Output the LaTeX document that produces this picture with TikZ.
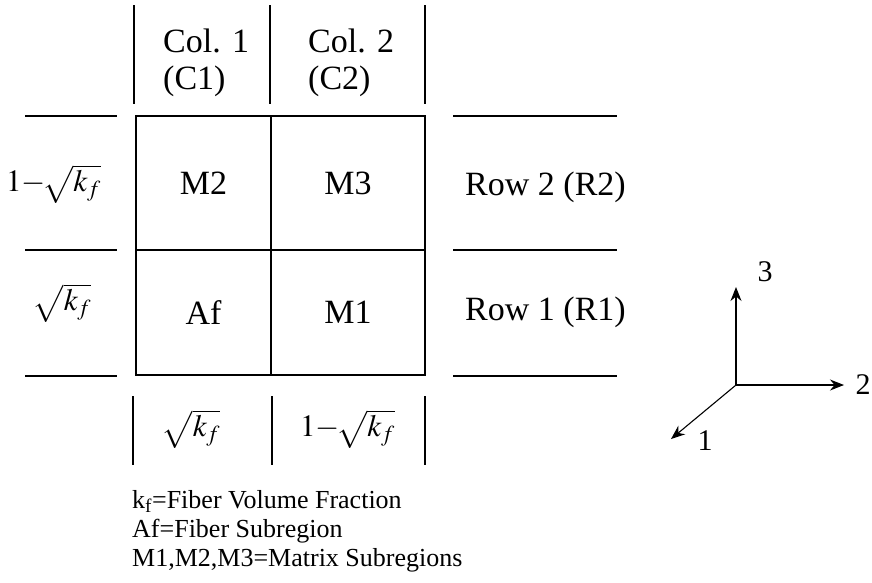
\documentclass[tikz,border=0pt]{standalone}
\usepackage{mathptmx}
\usepackage{fontspec}
\setmainfont{Liberation Serif}
\usetikzlibrary{arrows.meta}
\begin{document}
\begin{tikzpicture}[x=1pt,y=-1pt,
  ln/.style={line width=1.1pt,black},
  cell/.style={draw,line width=1.1pt,minimum width=#1,inner sep=0pt,outer sep=0pt,font=\fontsize{34}{40}\selectfont},
  big/.style={font=\fontsize{34}{37}\selectfont,inner sep=0pt},
  mth/.style={font=\fontsize{31}{34}\selectfont,inner sep=0pt},
  leg/.style={font=\fontsize{26}{29}\selectfont,inner sep=0pt,align=left},
  ax/.style={line width=1.1pt,-{Stealth[length=14pt,width=11pt]}},
  axl/.style={font=\fontsize{30}{32}\selectfont,inner sep=0pt}]
\useasboundingbox (0,0) rectangle (872,582);
% grid cells
\node[cell=135pt,minimum height=134pt,anchor=north west] (m2) at (136,116) {\raisebox{-4pt}{M2}};
\node[cell=154pt,minimum height=134pt,anchor=north west] (m3) at (271,116) {\raisebox{-4pt}{M3}};
\node[cell=135pt,minimum height=125pt,anchor=north west] (af) at (136,250) {Af};
\node[cell=154pt,minimum height=125pt,anchor=north west] (m1) at (271,250) {M1};
% header vertical lines
\coordinate (h1a) at (134,5); \coordinate (h1b) at (134,104);
\coordinate (h2a) at (270,5); \coordinate (h2b) at (270,104);
\coordinate (h3a) at (425,5); \coordinate (h3b) at (425,104);
\draw[ln] (h1a) -- (h1b); \draw[ln] (h2a) -- (h2b); \draw[ln] (h3a) -- (h3b);
\node[big,align=left,anchor=west] (c1) at (163,63) {Col. 1\\(C1)};
\node[big,align=left,anchor=west] (c2) at (308,63) {Col. 2\\(C2)};
% left horizontal lines
\coordinate (l1a) at (25,116); \coordinate (l1b) at (117,116);
\coordinate (l2a) at (25,250); \coordinate (l2b) at (117,250);
\coordinate (l3a) at (25,376); \coordinate (l3b) at (117,376);
\draw[ln] (l1a) -- (l1b); \draw[ln] (l2a) -- (l2b); \draw[ln] (l3a) -- (l3b);
\node[mth,anchor=west] (lt) at (6,184) {$1{-}\!\sqrt{k_f}$};
\node[mth] (lb) at (62,303) {$\sqrt{k_f}$};
% right horizontal lines
\coordinate (r1a) at (453,116); \coordinate (r1b) at (617,116);
\coordinate (r2a) at (453,250); \coordinate (r2b) at (617,250);
\coordinate (r3a) at (453,376); \coordinate (r3b) at (617,376);
\draw[ln] (r1a) -- (r1b); \draw[ln] (r2a) -- (r2b); \draw[ln] (r3a) -- (r3b);
\node[big,anchor=west] (row2) at (465,187) {Row 2 (R2)};
\node[big,anchor=west] (row1) at (465,312) {Row 1 (R1)};
% bottom vertical lines
\coordinate (b1a) at (133,396); \coordinate (b1b) at (133,465);
\coordinate (b2a) at (272,396); \coordinate (b2b) at (272,465);
\coordinate (b3a) at (425,396); \coordinate (b3b) at (425,465);
\draw[ln] (b1a) -- (b1b); \draw[ln] (b2a) -- (b2b); \draw[ln] (b3a) -- (b3b);
\node[mth] (bl) at (191,429) {$\sqrt{k_f}$};
\node[mth,anchor=west] (br) at (300,429) {$1{-}\!\sqrt{k_f}$};
% legend
\node[leg,anchor=north west] (legend) at (132,490) {k\textsubscript{f}=Fiber Volume Fraction\\Af=Fiber Subregion\\M1,M2,M3=Matrix Subregions};
% axes
\coordinate (o) at (736,385);
\coordinate (e3) at (736,287);
\coordinate (e2) at (844,385);
\coordinate (e1) at (671,439);
\draw[ax] (o) -- (e3);
\draw[ax] (o) -- (e2);
\draw[ax] (o) -- (e1);
\node[axl] (t3) at (765,272) {3};
\node[axl] (t2) at (863,385) {2};
\node[axl] (t1) at (705,441) {1};
\end{tikzpicture}
\end{document}
